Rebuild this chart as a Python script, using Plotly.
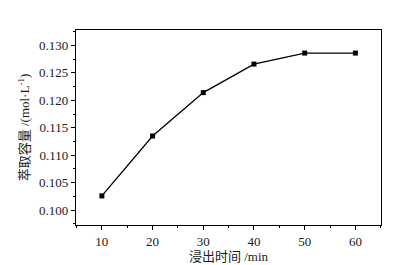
import plotly.graph_objects as go

time_min = [10, 20, 30, 40, 50, 60]
capacity = [0.1026, 0.1135, 0.1214, 0.1266, 0.1286, 0.1286]
x_ticks = [10, 20, 30, 40, 50, 60]
y_ticks = [0.100, 0.105, 0.110, 0.115, 0.120, 0.125, 0.130]
y_tick_labels = ["0.100", "0.105", "0.110", "0.115", "0.120", "0.125", "0.130"]

serif = "Liberation Serif, Times New Roman, serif"
cjk = "Liberation Serif, Noto Sans CJK SC, serif"

fig = go.Figure()
fig.add_trace(go.Scatter(
    x=time_min, y=capacity, mode="lines+markers",
    line=dict(color="black", width=1.3),
    marker=dict(symbol="square", size=5, color="black"),
    showlegend=False,
))

fig.update_layout(
    width=407, height=265,
    margin=dict(l=68, r=34, t=22, b=36),
    paper_bgcolor="white", plot_bgcolor="white",
    font=dict(family=serif, size=13, color="#1a1a1a"),
)
fig.update_xaxes(
    range=[4.9, 65.05], tickvals=x_ticks, ticks="outside", ticklen=4, tickwidth=1,
    tickcolor="black", showline=True, linecolor="black", linewidth=1.2, mirror=True,
    showgrid=False, zeroline=False,
    minor=dict(ticks="outside", ticklen=2, dtick=5, tick0=5, tickcolor="black", showgrid=False),
    title=dict(text="浸出时间 /min", font=dict(family=cjk, size=13, color="#1a1a1a"), standoff=3),
    tickfont=dict(family=serif, size=13, color="#1a1a1a"),
)
fig.update_yaxes(
    range=[0.0973, 0.1328], tickvals=y_ticks, ticktext=y_tick_labels,
    ticks="outside", ticklen=4, tickwidth=1, tickcolor="black",
    showline=True, linecolor="black", linewidth=1.2, mirror=True,
    showgrid=False, zeroline=False,
    minor=dict(ticks="outside", ticklen=2, dtick=0.0025, tick0=0.1, tickcolor="black", showgrid=False),
    title=dict(text="萃取容量 /(mol·L<sup>-1</sup>)", font=dict(family=cjk, size=13, color="#1a1a1a"), standoff=6),
    tickfont=dict(family=serif, size=13, color="#1a1a1a"),
)

fig.write_html("out.html")
